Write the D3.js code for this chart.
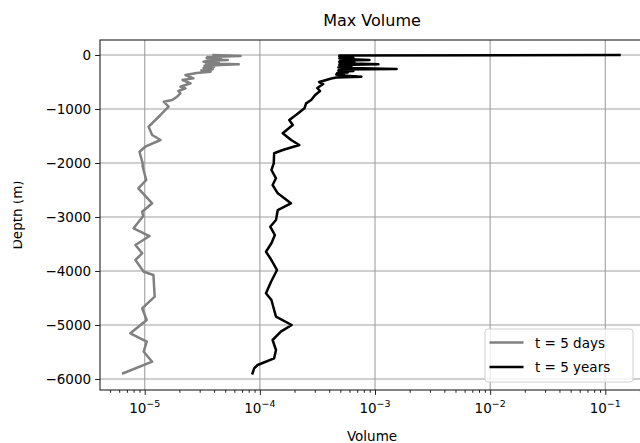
<!DOCTYPE html>
<html>
<head>
<meta charset="utf-8">
<script src="https://cdn.jsdelivr.net/npm/d3@7"></script>
<style>
  body { margin: 0; background: #fff; }
  text { font-family: "DejaVu Sans", sans-serif; fill: #000; }
</style>
</head>
<body>
<script>
// depth (m) and max volume
var grayDepth = [0, -19, -35, -48, -56, -70, -82, -93, -108, -124, -140, -158, -172, -185, -200, -220,
    -241, -262, -285, -309, -333, -370, -431, -463, -524, -587, -617,
    -667, -709, -772, -833, -865, -957, -1111, -1328, -1482, -1574, -1698, -1791, -2006, -2069, -2315,
    -2469, -2746, -2902, -2982, -3209, -3352, -3519, -3672, -3796, -4013, -4074, -4476, -4691, -4908,
    -5154, -5310, -5495, -5680, -5895];
var grayVolume = [3.96e-5, 6.8e-5, 3.5e-5, 4.3e-5, 3.44e-5, 4.6e-5, 3.6e-5, 5.26e-5, 3.5e-5, 3.24e-5,
    4.4e-5, 3.4e-5, 6.56e-5, 4.56e-5, 3.3e-5, 4.0e-5, 3.24e-5, 3.9e-5, 3.1e-5, 3.73e-5, 2.82e-5,
    2.26e-5, 2.65e-5, 2.13e-5, 2.50e-5, 2.04e-5, 2.26e-5, 1.96e-5, 2.04e-5, 1.91e-5, 1.73e-5, 1.46e-5,
    1.61e-5, 1.37e-5, 1.08e-5, 1.16e-5, 1.37e-5, 1.01e-5, 9.0e-6, 9.6e-6, 9.6e-6, 1.03e-5, 8.8e-6,
    1.16e-5, 9.5e-6, 9.7e-6, 8.0e-6, 1.10e-5, 8.3e-6, 9.5e-6, 8.3e-6, 9.8e-6, 1.19e-5, 1.22e-5, 9.5e-6,
    1.04e-5, 7.5e-6, 1.04e-5, 9.8e-6, 1.16e-5, 6.5e-6];

var blackDepth = [0, -10, -19, -30, -46, -56, -65, -78, -93, -102, -111, -120, -130, -142, -157, -172,
    -183, -194, -205, -217, -229, -241, -259, -270, -278, -288, -296, -310, -324, -334, -343, -360,
    -380, -402, -417, -435, -463, -500, -537, -611, -667, -741, -833, -895, -987, -1111, -1204,
    -1296, -1450, -1574, -1667, -1760, -1820, -2006, -2130, -2283, -2407, -2561, -2746, -2871, -3056,
    -3180, -3334, -3487, -3643, -3797, -3982, -4199, -4413, -4537, -4723, -4846, -5000, -5124, -5278,
    -5463, -5617, -5741, -5802, -5895];
var blackVolume = [0.133, 4.9e-4, 6.2e-4, 4.9e-4, 5.64e-4, 6.5e-4, 4.90e-4, 6.3e-4, 8.95e-4, 5.0e-4,
    6.4e-4, 4.9e-4, 6.62e-4, 4.9e-4, 6.3e-4, 1.07e-3, 4.9e-4, 6.0e-4, 5.0e-4, 6.24e-4, 4.8e-4, 6.0e-4,
    1.54e-3, 4.9e-4, 6.0e-4, 4.8e-4, 6.49e-4, 4.9e-4, 5.8e-4, 4.70e-4, 5.42e-4, 4.6e-4,
    5.2e-4, 7.62e-4, 4.61e-4, 4.17e-4,
    3.77e-4, 3.27e-4, 3.55e-4, 3.15e-4, 3.33e-4, 3.02e-4, 2.79e-4, 2.52e-4, 2.44e-4, 2.06e-4, 1.80e-4,
    1.93e-4, 1.58e-4, 1.87e-4, 2.20e-4, 1.58e-4, 1.33e-4, 1.32e-4, 1.26e-4, 1.38e-4, 1.29e-4, 1.43e-4,
    1.86e-4, 1.43e-4, 1.38e-4, 1.23e-4, 1.35e-4, 1.26e-4, 1.13e-4, 1.26e-4, 1.41e-4, 1.25e-4, 1.13e-4,
    1.26e-4, 1.33e-4, 1.38e-4, 1.89e-4, 1.52e-4, 1.29e-4, 1.38e-4, 1.33e-4, 9.55e-5, 8.92e-5, 8.63e-5];

var seriesNames = ["t = 5 days", "t = 5 years"];
var seriesColors = ["#808080", "#000000"];
var yTicks = [0, -1000, -2000, -3000, -4000, -5000, -6000];
var xExponents = [-5, -4, -3, -2, -1];

var W = 640, H = 443;
var margin = { top: 40, right: -4, bottom: 53, left: 100 };
var width = W - margin.left - margin.right,
    height = H - margin.top - margin.bottom;

var svg = d3.select("body").append("svg")
    .attr("width", W)
    .attr("height", H);

var g = svg.append("g")
    .attr("transform", "translate(" + margin.left + "," + margin.top + ")");

var x = d3.scaleLog().domain([4.087e-6, 0.2169]).range([0, width]);
var y = d3.scaleLinear().domain([-6204, 278]).range([height, 0]);

// grid
g.append("g").selectAll("line")
    .data(xExponents)
    .enter().append("line")
    .attr("x1", function(d) { return x(Math.pow(10, d)); })
    .attr("x2", function(d) { return x(Math.pow(10, d)); })
    .attr("y1", 0).attr("y2", height)
    .attr("stroke", "#a0a0a0").attr("stroke-width", 1.1);
g.append("g").selectAll("line")
    .data(yTicks)
    .enter().append("line")
    .attr("x1", 0).attr("x2", width)
    .attr("y1", function(d) { return y(d); })
    .attr("y2", function(d) { return y(d); })
    .attr("stroke", "#a0a0a0").attr("stroke-width", 1.1);

// lines
var series = [
    grayDepth.map(function(d, i) { return { depth: d, vol: grayVolume[i] }; }),
    blackDepth.map(function(d, i) { return { depth: d, vol: blackVolume[i] }; })
];
var valueline = d3.line()
    .x(function(d) { return x(d.vol); })
    .y(function(d) { return y(d.depth); });

g.selectAll("path.series")
    .data(series)
    .enter().append("path")
    .attr("class", "series")
    .attr("fill", "none")
    .attr("stroke", function(d, i) { return seriesColors[i]; })
    .attr("stroke-width", 2.5)
    .attr("stroke-linejoin", "round")
    .attr("stroke-linecap", "square")
    .attr("d", valueline);

// frame
g.append("rect")
    .attr("x", 0).attr("y", 0)
    .attr("width", width).attr("height", height)
    .attr("fill", "none").attr("stroke", "#222").attr("stroke-width", 1.1);

// x axis: major and minor ticks
var majors = xExponents.map(function(e) { return Math.pow(10, e); });
var minors = [];
for (var e = -6; e <= -1; e++) {
    for (var m = 2; m <= 9; m++) {
        var v = m * Math.pow(10, e);
        if (v >= x.domain()[0] && v <= x.domain()[1]) minors.push(v);
    }
}
var xAxis = g.append("g").attr("transform", "translate(0," + height + ")");
xAxis.call(d3.axisBottom(x).tickValues(majors).tickFormat("").tickSize(4.9).tickSizeOuter(0));
xAxis.append("g").call(d3.axisBottom(x).tickValues(minors).tickFormat("").tickSize(2.8).tickSizeOuter(0));
xAxis.selectAll(".domain").remove();
xAxis.selectAll("line").attr("stroke", "#222").attr("stroke-width", 1);

var xl = g.append("g").selectAll("text")
    .data(xExponents)
    .enter().append("text")
    .attr("x", function(d) { return x(Math.pow(10, d)); })
    .attr("y", height + 22.5)
    .attr("text-anchor", "middle")
    .style("font-size", "13.5px");
xl.append("tspan").text("10");
xl.append("tspan")
    .attr("dy", -5.5)
    .style("font-size", "9.5px")
    .text(function(d) { return "\u2212" + (-d); });

// y axis
var yAxis = g.append("g")
    .call(d3.axisLeft(y).tickValues(yTicks).tickFormat(d3.format("d")).tickSize(4.9).tickPadding(4));
yAxis.select(".domain").remove();
yAxis.selectAll("line").attr("stroke", "#222").attr("stroke-width", 1);
yAxis.selectAll("text")
    .style("font-family", "DejaVu Sans")
    .style("font-size", "13.5px")
    .attr("fill", "#000");

// title and labels
svg.append("text")
    .attr("x", margin.left + width / 2).attr("y", 26)
    .attr("text-anchor", "middle")
    .style("font-size", "16px")
    .text("Max Volume");
svg.append("text")
    .attr("x", margin.left + width / 2).attr("y", 441)
    .attr("text-anchor", "middle")
    .style("font-size", "13.5px")
    .text("Volume");
svg.append("text")
    .attr("transform", "translate(21.5," + (margin.top + height / 2) + ") rotate(-90)")
    .attr("text-anchor", "middle")
    .style("font-size", "13.5px")
    .text("Depth (m)");
// the reference has the label's top edge clipped
svg.append("rect")
    .attr("x", 0).attr("y", 150).attr("width", 13.5).attr("height", 130)
    .attr("fill", "#fff");

// legend
var leg = svg.append("g").attr("transform", "translate(485,329)");
leg.append("rect")
    .attr("width", 148).attr("height", 53).attr("rx", 3)
    .attr("fill", "#fff").attr("fill-opacity", 0.8)
    .attr("stroke", "#d0d0d0").attr("stroke-width", 1);
seriesNames.forEach(function(name, i) {
    var ly = 13.5 + i * 24.4;
    leg.append("line")
        .attr("x1", 4.5).attr("x2", 38.5)
        .attr("y1", ly).attr("y2", ly)
        .attr("stroke", seriesColors[i]).attr("stroke-width", 2.5);
    leg.append("text")
        .attr("x", 50).attr("y", ly + 5)
        .style("font-size", "13.5px")
        .text(name);
});
</script>
</body>
</html>
